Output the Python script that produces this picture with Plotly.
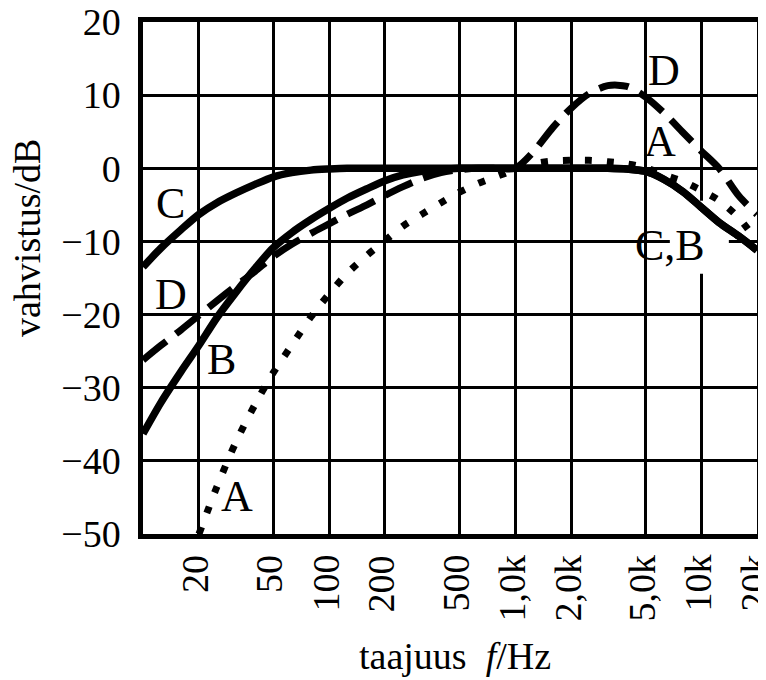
import math
import plotly.graph_objects as go

# ---------------- data ----------------
freq_std = [10, 12.5, 16, 20, 25, 31.5, 40, 50, 63, 80, 100, 125, 160, 200, 250, 315,
            400, 500, 630, 800, 1000, 1250, 1600, 2000, 2500, 3150, 4000, 5000, 6300,
            8000, 10000, 12500, 16000, 20000]

C_db = [-13.5, -10.9, -8.4, -6.3, -4.7, -3.4, -2.2, -1.2, -0.6, -0.25, -0.1, 0, 0, 0, 0, 0,
        0, 0, 0, 0, 0, 0, 0, 0, 0, 0, -0.1, -0.4, -1.5,
        -3.2, -5.3, -7.4, -9.3, -11.2]

B_db = [-36.3, -32.0, -27.8, -24.2, -20.4, -17.0, -13.7, -10.9, -8.8, -7.0, -5.5, -4.1, -2.8, -1.7, -0.9, -0.4,
        -0.15, 0, 0, 0, 0, 0, 0, 0, 0, 0, -0.1, -0.4, -1.5,
        -3.2, -5.3, -7.4, -9.3, -11.2]

D_db = [-26.2, -24.2, -22.1, -20.1, -18.1, -16.1, -14.1, -12.1, -10.4, -8.9, -7.6, -6.3, -5.0, -3.7, -2.5, -1.4,
        -0.6, -0.2, 0, 0, 0, 2.2, 5.6, 8.2, 10.2, 11.3, 11.2, 9.8, 7.6,
        4.9, 2.4, 0.0, -3.8, -6.3]

A_freq = [20, 25, 31.5, 40, 50, 63, 80, 100, 125, 160, 200, 250, 315, 400, 500, 630, 800,
          1000, 1250, 1600, 2000, 2500, 3150, 4000, 5000, 6300, 8000, 10000, 12500, 16000, 20000]
A_db = [-50, -43.5, -37.5, -32.3, -28.0, -24.2, -20.3, -17.2, -14.4, -11.9, -9.9, -7.9, -6.3, -4.7, -3.3, -2.1, -1.1,
        -0.2, 0.6, 1.0, 1.1, 1.1, 0.9, 0.6, 0.1, -0.9, -1.8, -3.0, -4.4, -6.8, -10.0]

x_tickvals = [20, 50, 100, 200, 500, 1000, 2000, 5000, 10000, 20000]
x_ticktext = ["20", "50", "100", "200", "500", "1,0k", "2,0k", "5,0k", "10k", "20k"]
y_tickvals = [-50, -40, -30, -20, -10, 0, 10, 20]

label_text = ["C", "D", "B", "A", "D", "A", "C,B"]
label_freq = [14.0, 14.1, 26.3, 32.0, 6320, 6030, 6800]
label_db = [-4.8, -17.3, -26.1, -44.9, 13.4, 3.6, -10.6]

FONT = "Liberation Serif"

fig = go.Figure()

lw = 7.5
fig.add_trace(go.Scatter(x=A_freq, y=A_db, mode="lines",
                         line=dict(color="black", width=7, dash="7px,15px", shape="spline", smoothing=0.8),
                         hoverinfo="skip", showlegend=False))
fig.add_trace(go.Scatter(x=freq_std, y=D_db, mode="lines",
                         line=dict(color="black", width=7, dash="30px,12px", shape="spline", smoothing=0.8),
                         hoverinfo="skip", showlegend=False))
fig.add_trace(go.Scatter(x=freq_std, y=B_db, mode="lines",
                         line=dict(color="black", width=lw, shape="spline", smoothing=0.8),
                         hoverinfo="skip", showlegend=False))
fig.add_trace(go.Scatter(x=freq_std, y=C_db, mode="lines",
                         line=dict(color="black", width=lw, shape="spline", smoothing=0.8),
                         hoverinfo="skip", showlegend=False))

# curve labels
for t, f, v in zip(label_text, label_freq, label_db):
    fig.add_annotation(x=math.log10(f), y=v, xref="x", yref="y", text=t, showarrow=False,
                       font=dict(family=FONT, size=44, color="black"),
                       xanchor="center", yanchor="middle")

# white patch behind the "C,B" label that interrupts the grid (below the curves)
fig.add_shape(type="rect", xref="x", yref="y", xsizemode="pixel", ysizemode="pixel",
              xanchor=label_freq[-1], yanchor=label_db[-1],
              x0=-59, x1=59, y0=-28, y1=45,
              fillcolor="white", line=dict(width=0), layer="between")

# x tick labels: rotated, top-aligned just below the axis
for v, t in zip(x_tickvals, x_ticktext):
    fig.add_annotation(x=math.log10(v), y=0, xref="x", yref="paper", yshift=-19, xshift=-4,
                       text=t, textangle=-90, showarrow=False,
                       font=dict(family=FONT, size=38, color="black"),
                       xanchor="center", yanchor="top")

fig.add_annotation(x=-0.189, y=0.578, xref="paper", yref="paper", text="vahvistus/dB",
                   textangle=-90, showarrow=False, font=dict(family=FONT, size=38, color="black"),
                   xanchor="center", yanchor="middle")
fig.add_annotation(x=0.508, y=-0.238, xref="paper", yref="paper",
                   text="taajuus\u00a0 <i>f</i>/Hz", showarrow=False,
                   font=dict(family=FONT, size=38, color="black"),
                   xanchor="center", yanchor="middle")

fig.update_xaxes(type="log", range=[1, math.log10(20000) + 1e-6],
                 tickvals=x_tickvals, showticklabels=False,
                 showgrid=True, gridcolor="black", gridwidth=3,
                 showline=True, linecolor="black", linewidth=4.5, mirror=True,
                 ticks="", zeroline=False)
fig.update_yaxes(range=[-50, 20], tickvals=y_tickvals,
                 tickfont=dict(family=FONT, size=38, color="black"),
                 showgrid=True, gridcolor="black", gridwidth=3,
                 showline=True, linecolor="black", linewidth=4.5, mirror=True,
                 ticks="", ticklabelstandoff=10, ticklabeloverflow="allow", zeroline=False)

# the page body adds an 8px offset, so the figure is 8px smaller than the window
fig.update_layout(width=758, height=672,
                  margin=dict(l=135, r=9, t=14, b=146, autoexpand=False),
                  paper_bgcolor="white", plot_bgcolor="white",
                  font=dict(family=FONT, color="black"))

fig.write_html("out.html")
